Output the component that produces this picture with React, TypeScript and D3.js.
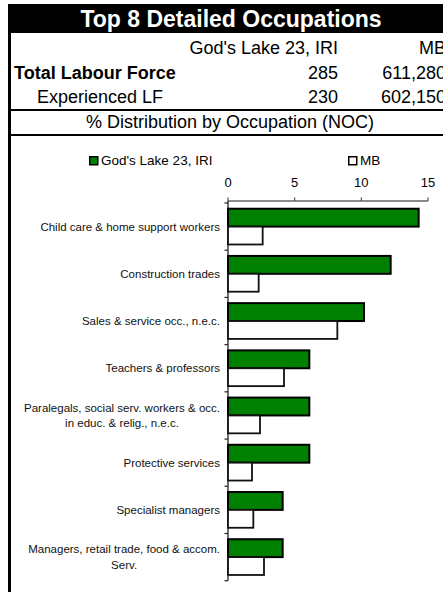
import React, { useEffect, useRef } from 'react';
import * as d3 from 'd3';

const title = "Top 8 Detailed Occupations";
const subtitle = "% Distribution by Occupation (NOC)";
const seriesNames = ["God's Lake 23, IRI", "MB"];
const rowLabels = ["Total Labour Force", "Experienced LF"];
const godsLakeCounts = ["285", "230"];
const mbCounts = ["611,280", "602,150"];

const categories = [
  "Child care & home support workers",
  "Construction trades",
  "Sales & service occ., n.e.c.",
  "Teachers & professors",
  "Paralegals, social serv. workers & occ. in educ. & relig., n.e.c.",
  "Protective services",
  "Specialist managers",
  "Managers, retail trade, food & accom. Serv.",
];
const godsLakeValues = [14.3, 12.2, 10.2, 6.1, 6.1, 6.1, 4.1, 4.1];
const mbValues = [2.6, 2.3, 8.2, 4.2, 2.4, 1.8, 1.9, 2.7];
const xTicks = [0, 5, 10, 15];

const FONT = "'Liberation Sans', Arial, Helvetica, sans-serif";
const GREEN = "#008000";

export default function App() {
  const ref = useRef<SVGSVGElement>(null);

  useEffect(() => {
    const svg = d3.select(ref.current);
    svg.selectAll('*').remove();
    svg.attr('font-family', FONT);

    // ---- header table ----
    svg.append('rect').attr('x', 8).attr('y', 4).attr('width', 450).attr('height', 29).attr('fill', '#000');
    svg.append('text').attr('x', 231).attr('y', 27).attr('text-anchor', 'middle')
      .attr('fill', '#fff').attr('font-weight', 'bold').attr('font-size', 23).text(title);

    svg.append('rect').attr('x', 8).attr('y', 33).attr('width', 3).attr('height', 560).attr('fill', '#000');

    const col1 = 338, col2 = 446;
    svg.append('text').attr('x', col1).attr('y', 54).attr('text-anchor', 'end').attr('font-size', 18).text(seriesNames[0]);
    svg.append('text').attr('x', col2).attr('y', 54).attr('text-anchor', 'end').attr('font-size', 18).text(seriesNames[1]);

    const rowY = [79, 102.5];
    rowLabels.forEach((lab, i) => {
      svg.append('text').attr('x', i === 0 ? 14 : 37).attr('y', rowY[i])
        .attr('font-size', 18).attr('font-weight', i === 0 ? 'bold' : 'normal').text(lab);
      svg.append('text').attr('x', col1).attr('y', rowY[i]).attr('text-anchor', 'end').attr('font-size', 18).text(godsLakeCounts[i]);
      svg.append('text').attr('x', col2).attr('y', rowY[i]).attr('text-anchor', 'end').attr('font-size', 18).text(mbCounts[i]);
    });

    svg.append('rect').attr('x', 8).attr('y', 109).attr('width', 440).attr('height', 2).attr('fill', '#000');
    svg.append('text').attr('x', 230).attr('y', 128).attr('text-anchor', 'middle').attr('font-size', 18).text(subtitle);
    svg.append('rect').attr('x', 8).attr('y', 134).attr('width', 440).attr('height', 2).attr('fill', '#000');

    // ---- legend ----
    const legendItems = [
      { name: seriesNames[0], fill: GREEN, x: 89 },
      { name: seriesNames[1], fill: '#fff', x: 348 },
    ];
    legendItems.forEach(it => {
      svg.append('rect').attr('x', it.x + 0.75).attr('y', 156.75).attr('width', 8).attr('height', 8)
        .attr('fill', it.fill).attr('stroke', '#000').attr('stroke-width', 1.5);
      svg.append('text').attr('x', it.x + 12).attr('y', 165).attr('font-size', 13.5).text(it.name);
    });

    // ---- chart ----
    const x = d3.scaleLinear().domain([0, 15]).range([228, 428]);
    const y = d3.scaleBand<string>().domain(categories).range([203, 580.7]).paddingInner(0).paddingOuter(0);
    const ySub = d3.scaleBand<string>().domain(['g', 'mb']).range([0, y.bandwidth()]).paddingInner(0).paddingOuter(0.32);

    // top value axis
    const axisY = 201;
    svg.append('line').attr('x1', x(0)).attr('x2', x(15)).attr('y1', axisY).attr('y2', axisY)
      .attr('stroke', '#666').attr('stroke-width', 1.3);
    xTicks.forEach(t => {
      svg.append('line').attr('x1', x(t)).attr('x2', x(t)).attr('y1', axisY - 3.5).attr('y2', axisY)
        .attr('stroke', '#555').attr('stroke-width', 1.2);
      svg.append('text').attr('x', x(t)).attr('y', 186.7).attr('text-anchor', 'middle').attr('font-size', 13).text(String(t));
    });

    // category axis
    svg.append('line').attr('x1', x(0)).attr('x2', x(0)).attr('y1', axisY).attr('y2', 580.7)
      .attr('stroke', '#222').attr('stroke-width', 1.3);
    const bounds = categories.map(c => y(c) as number).concat([(y(categories[categories.length - 1]) as number) + y.bandwidth()]);
    bounds.forEach(b => {
      svg.append('line').attr('x1', x(0) - 3.5).attr('x2', x(0)).attr('y1', b).attr('y2', b)
        .attr('stroke', '#222').attr('stroke-width', 1.2);
    });

    // bars
    categories.forEach((c, i) => {
      const y0 = y(c) as number;
      svg.append('rect').attr('x', x(0)).attr('y', y0 + (ySub('g') as number))
        .attr('width', x(godsLakeValues[i]) - x(0)).attr('height', ySub.bandwidth())
        .attr('fill', GREEN).attr('stroke', '#000').attr('stroke-width', 2);
      svg.append('rect').attr('x', x(0)).attr('y', y0 + (ySub('mb') as number))
        .attr('width', x(mbValues[i]) - x(0)).attr('height', ySub.bandwidth())
        .attr('fill', '#fff').attr('stroke', '#111').attr('stroke-width', 1.8);
    });

    // category labels (wrapped, centered block, right aligned)
    const labelRight = 220;
    const fs = 11.5;
    const lineH = 15.6;
    const maxW = 205;
    categories.forEach(c => {
      const words = c.split(' ');
      const probe = svg.append('text').attr('font-size', fs);
      const lines: string[] = [];
      let cur = '';
      words.forEach(w => {
        const test = cur ? cur + ' ' + w : w;
        probe.text(test);
        const wl = (probe.node() as SVGTextElement).getComputedTextLength();
        if (wl > maxW && cur) {
          lines.push(cur);
          cur = w;
        } else cur = test;
      });
      if (cur) lines.push(cur);
      let widest = 0;
      lines.forEach(l => {
        probe.text(l);
        widest = Math.max(widest, (probe.node() as SVGTextElement).getComputedTextLength());
      });
      probe.remove();
      const cx = labelRight - widest / 2;
      const cy = (y(c) as number) + y.bandwidth() / 2;
      const startY = cy - ((lines.length - 1) * lineH) / 2;
      lines.forEach((l, k) => {
        svg.append('text').attr('x', cx).attr('y', startY + k * lineH).attr('dy', '0.35em')
          .attr('text-anchor', 'middle').attr('font-size', fs).attr('fill', '#111').text(l);
      });
    });
  }, []);

  return (
    <svg ref={ref} width={443} height={592}
      style={{ position: 'absolute', left: 0, top: 0, background: '#fff' }} />
  );
}
